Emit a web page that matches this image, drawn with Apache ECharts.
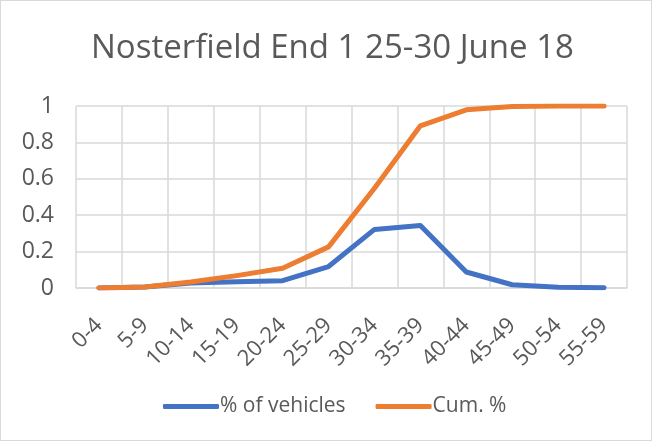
<!DOCTYPE html>
<html><head><meta charset="utf-8">
<script src="https://cdn.jsdelivr.net/npm/echarts@6/dist/echarts.min.js"></script>
<style>html,body{margin:0;padding:0;background:#fff}#c{width:650px;height:439px;border:1px solid #d9d9d9}</style>
</head><body><div id="c"></div>
<script>
var categories = ['0-4','5-9','10-14','15-19','20-24','25-29','30-34','35-39','40-44','45-49','50-54','55-59'];
var pctVehicles = [0, 0.005, 0.028, 0.035, 0.04, 0.118, 0.322, 0.343, 0.088, 0.018, 0.004, 0.002];
var cumPct = [0, 0.005, 0.033, 0.068, 0.108, 0.226, 0.548, 0.891, 0.979, 0.997, 1.0, 1.0];
var yTicks = [0, 0.2, 0.4, 0.6, 0.8, 1];
var font = '"Open Sans", "Liberation Sans", sans-serif';
var chart = echarts.init(document.getElementById('c'));
chart.setOption({
  animation: false,
  title: { text: 'Nosterfield End 1 25-30 June 18', left: 85, top: 26,
    textStyle: { fontFamily: font, fontSize: 33, fontWeight: 'normal', color: '#595959' } },
  grid: { left: 75, right: 24, top: 105, bottom: 152, containLabel: false },
  legend: { bottom: 18, left: 157, itemWidth: 56, itemHeight: 5, itemGap: 30, icon: 'roundRect',
    textStyle: { fontFamily: font, fontSize: 21, color: '#595959', padding: [0,0,0,-4] },
    data: ['% of vehicles', 'Cum. %'] },
  xAxis: { type: 'category', data: categories, boundaryGap: true,
    axisLine: { lineStyle: { color: '#d9d9d9', width: 1.5 } }, axisTick: { show: false },
    splitLine: { show: true, lineStyle: { color: '#d9d9d9', width: 1.5 } },
    axisLabel: { rotate: 45, interval: 0, fontFamily: font, fontSize: 22, color: '#595959', margin: 34 } },
  yAxis: { type: 'value', min: 0, max: 1, interval: 0.2,
    axisLine: { show: false }, axisTick: { show: false },
    splitLine: { lineStyle: { color: '#d9d9d9', width: 1.5 } },
    axisLabel: { fontFamily: font, fontSize: 23, color: '#595959', margin: 22,
      formatter: function (v) { var t = yTicks.find(function (x) { return Math.abs(x - v) < 1e-9; }); return String(t); } } },
  series: [
    { name: '% of vehicles', type: 'line', data: pctVehicles, symbol: 'none',
      lineStyle: { width: 5, color: '#4472C4', cap: 'round', join: 'round' }, itemStyle: { color: '#4472C4' } },
    { name: 'Cum. %', type: 'line', data: cumPct, symbol: 'none',
      lineStyle: { width: 5, color: '#ED7D31', cap: 'round', join: 'round' }, itemStyle: { color: '#ED7D31' } }
  ]
});
</script></body></html>
